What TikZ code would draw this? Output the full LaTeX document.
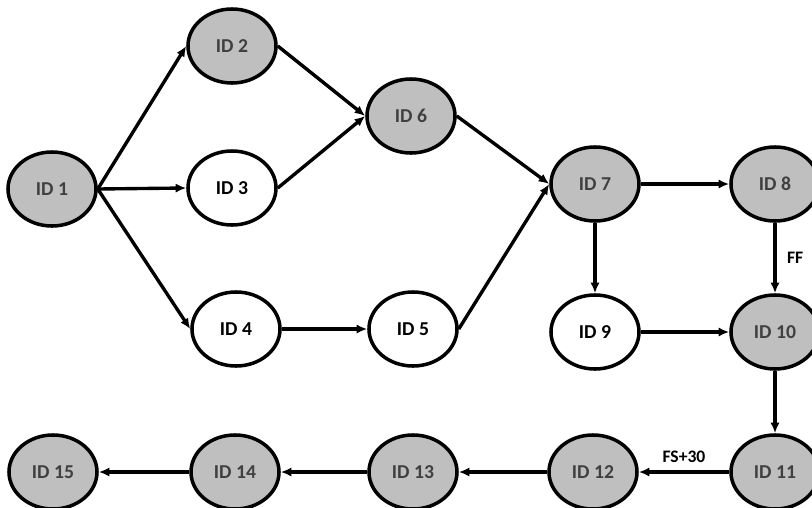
\documentclass[tikz,border=0pt]{standalone}
\usepackage{fontspec}
\setmainfont{Carlito}
\usepackage{xcolor}
\usepackage{tikz}
\usetikzlibrary{shapes,arrows,arrows.meta,positioning,calc}

\definecolor{nodegray}{HTML}{BFBFBF}
\definecolor{textgray}{HTML}{404040}

\begin{document}
\begin{tikzpicture}[x=0.025cm, y=-0.025cm,
    every node/.style={font=\bfseries\fontsize{14}{16}\selectfont},
    task/.style={ellipse, draw, line width=2.5pt, minimum width=2.2cm, minimum height=1.85cm, inner sep=0pt, fill=white},
    critical/.style={task, fill=nodegray, text=textgray},
    link/.style={-{Latex[length=7.5pt,width=6.5pt]}, line width=2.4pt},
    lbl/.style={font=\bfseries\fontsize{12.5}{14}\selectfont}]
    \useasboundingbox (0,0) rectangle (812,508);

    % Draw nodes
    \node[critical] (n1)  at (52,189)  {ID 1};
    \node[critical] (n2)  at (232,46)  {ID 2};
    \node[task]     (n3)  at (232,188) {ID 3};
    \node[task]     (n4)  at (236,329) {ID 4};
    \node[task]     (n5)  at (413,329) {ID 5};
    \node[critical] (n6)  at (411,116) {ID 6};
    \node[critical] (n7)  at (595,184) {ID 7};
    \node[critical] (n8)  at (775,184) {ID 8};
    \node[task]     (n9)  at (595,332) {ID 9};
    \node[critical] (n10) at (775,332) {ID 10};
    \node[critical] (n11) at (775,472) {ID 11};
    \node[critical] (n12) at (593,472) {ID 12};
    \node[critical] (n13) at (413,472) {ID 13};
    \node[critical] (n14) at (235,472) {ID 14};
    \node[critical] (n15) at (53,472)  {ID 15};

    % Draw links
    \draw[link] (n1.east) -- (n2.west);
    \draw[link] (n1.east) -- (n3.west);
    \draw[link] (n1.east) -- (n4.west);
    \draw[link] (n2.east) -- (n6.west);
    \draw[link] (n3.east) -- (n6.west);
    \draw[link] (n4.east) -- (n5.west);
    \draw[link] (n6.east) -- (n7.west);
    \draw[link] (n5.east) -- (n7.west);
    \draw[link] (n7.east) -- (n8.west);
    \draw[link] (n7.south) -- (n9.north);
    \draw[link] (n8.south) -- node[lbl, right=4pt] {FF} (n10.north);
    \draw[link] (n9.east) -- (n10.west);
    \draw[link] (n10.south) -- (n11.north);
    \draw[link] (n11.west) -- node[lbl, above=2pt] {FS+30} (n12.east);
    \draw[link] (n12.west) -- (n13.east);
    \draw[link] (n13.west) -- (n14.east);
    \draw[link] (n14.west) -- (n15.east);
\end{tikzpicture}
\end{document}
